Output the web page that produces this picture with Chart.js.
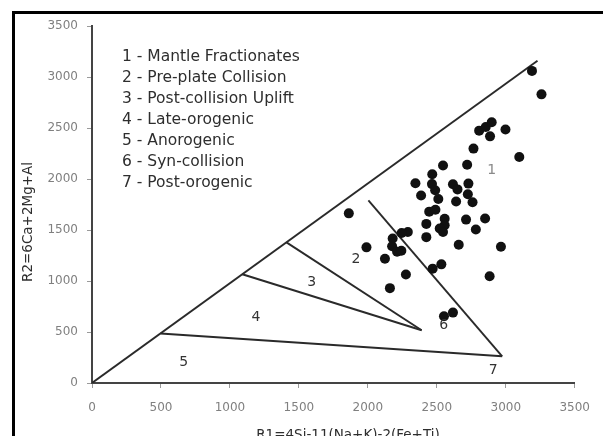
<!DOCTYPE html>
<html>
<head>
<meta charset="utf-8">
<script src="https://cdn.jsdelivr.net/npm/chart.js@4.4.0/dist/chart.umd.min.js"></script>
<style>
  html, body { margin: 0; padding: 0; background: #fff; overflow: hidden; }
  #wrap { position: relative; width: 603px; height: 436px; overflow: hidden; background: #fff; }
  #frame { position: absolute; left: 12px; top: 11px; width: 700px; height: 500px; border: 3px solid #000; box-sizing: border-box; }
  canvas { position: absolute; left: 0; top: 0; }
</style>
</head>
<body>
<div id="wrap">
  <div id="frame"></div>
  <canvas id="chart" width="603" height="445"></canvas>
</div>
<script>
// R1-R2 sample values
const r1Values = [
  3190, 3259, 2807, 2855, 2898, 2886, 2998, 2766, 3098, 2545, 2720, 2467,
  2345, 2465, 2386, 2488, 2511, 2617, 2650, 2729, 2725, 2640, 2759, 2445,
  2490, 1862, 2557, 2712, 2850, 2424, 2557, 2521, 2545, 2783, 2424, 2290,
  2245, 2180, 2176, 2212, 2243, 1990, 2124, 2659, 2965, 2470, 2533, 2276,
  2160, 2883, 2552, 2617
];
const r2Values = [
  3060, 2830, 2474, 2510, 2556, 2418, 2485, 2298, 2216, 2132, 2140, 2046,
  1958, 1950, 1838, 1890, 1804, 1948, 1898, 1955, 1850, 1780, 1772, 1680,
  1698, 1663, 1610, 1602, 1612, 1560, 1546, 1514, 1480, 1505, 1430, 1481,
  1470, 1416, 1340, 1287, 1297, 1330, 1219, 1355, 1335, 1121, 1163, 1063,
  930, 1046, 654, 690
];

// field boundaries, [r1, r2] end points
const boundaryOuter = [[0, 0], [3230, 3160]];
const boundary45 = [[497, 486], [2974, 262]];
const boundary34 = [[1090, 1066], [2390, 517]];
const boundary23 = [[1410, 1379], [2390, 517]];
const boundary16 = [[2004, 1791], [2974, 262]];
const boundaries = [boundaryOuter, boundary45, boundary34, boundary23, boundary16];

// field numbers placed in data space
const regionNames = ["1", "2", "3", "4", "5", "6", "7"];
const regionR1 = [2898, 1914, 1593, 1188, 664, 2550, 2909];
const regionR2 = [2085, 1210, 990, 647, 206, 566, 125];

const fieldKey = [
  "1 - Mantle Fractionates",
  "2 - Pre-plate Collision",
  "3 - Post-collision Uplift",
  "4 - Late-orogenic",
  "5 - Anorogenic",
  "6 - Syn-collision",
  "7 - Post-orogenic",
];

const xTitle = "R1=4Si-11(Na+K)-2(Fe+Ti)";
const yTitle = "R2=6Ca+2Mg+Al";

const FONT = "'DejaVu Sans', Verdana, sans-serif";

const textPlugin = {
  id: "diagramText",
  afterDatasetsDraw(chart) {
    const { ctx } = chart;
    const x = chart.scales.x;
    const y = chart.scales.y;
    ctx.save();
    ctx.textBaseline = "middle";

    // field numbers
    ctx.textAlign = "center";
    ctx.font = `14px ${FONT}`;
    regionNames.forEach((n, i) => {
      ctx.fillStyle = i === 0 ? "#8a8a8a" : "#333";
      ctx.fillText(n, x.getPixelForValue(regionR1[i]), y.getPixelForValue(regionR2[i]));
    });

    // key to the fields
    ctx.textAlign = "left";
    ctx.fillStyle = "#2e2e2e";
    ctx.font = `15.5px ${FONT}`;
    fieldKey.forEach((t, i) => ctx.fillText(t, 122, 57 + i * 21));

    // axis titles
    ctx.textAlign = "center";
    ctx.font = `13.5px ${FONT}`;
    ctx.fillText(xTitle, 348, 435);
    ctx.translate(28, 222);
    ctx.rotate(-Math.PI / 2);
    ctx.fillText(yTitle, 0, 0);
    ctx.restore();
  },
};

const lineSets = boundaries.map((seg) => ({
  data: seg.map(([a, b]) => ({ x: a, y: b })),
  showLine: true,
  borderColor: "#2a2a2a",
  borderWidth: 1.9,
  pointRadius: 0,
  fill: false,
  order: 2,
}));

const sampleSet = {
  data: r1Values.map((v, i) => ({ x: v, y: r2Values[i] })),
  pointRadius: 5,
  pointBackgroundColor: "#111",
  pointBorderWidth: 0,
  showLine: false,
  order: 1,
};

const tickFont = { family: "DejaVu Sans", size: 12 };

new Chart(document.getElementById("chart"), {
  type: "scatter",
  data: { datasets: [...lineSets, sampleSet] },
  options: {
    responsive: false,
    animation: false,
    layout: { padding: { left: 0, right: 21, top: 26, bottom: 0 } },
    plugins: { legend: { display: false }, tooltip: { enabled: false } },
    scales: {
      x: {
        type: "linear",
        min: 0,
        max: 3500,
        ticks: { stepSize: 500, color: "#808080", font: tickFont, padding: 13, callback: (v) => String(v) },
        grid: { drawOnChartArea: false, color: "#9a9a9a", tickLength: 5 },
        border: { color: "#444", width: 2 },
        afterFit: (s) => { s.height = 62; },
      },
      y: {
        type: "linear",
        min: 0,
        max: 3500,
        ticks: { stepSize: 500, color: "#808080", font: tickFont, padding: 9, callback: (v) => String(v) },
        grid: { drawOnChartArea: false, color: "#9a9a9a", tickLength: 5 },
        border: { color: "#444", width: 2 },
        afterFit: (s) => { s.width = 92; },
      },
    },
  },
  plugins: [textPlugin],
});
</script>
</body>
</html>
